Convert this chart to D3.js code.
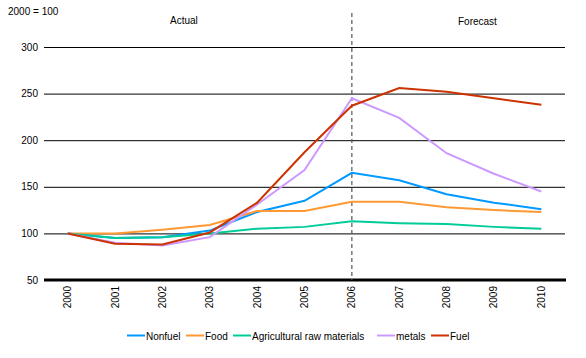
<!DOCTYPE html>
<html><head><meta charset="utf-8">
<script src="https://cdn.jsdelivr.net/npm/d3@7"></script>
<style>body{margin:0;background:#fff}svg{display:block}text{font-family:"Liberation Sans",Arial,sans-serif;fill:#000}</style>
</head><body>
<svg id="c" width="586" height="358"></svg>
<script>
const years = ["2000","2001","2002","2003","2004","2005","2006","2007","2008","2009","2010"];
const yTicks = [50,100,150,200,250,300];
const nonfuel = [100,95,96,103,123,135,165,157,142,133,126];
const food = [100,100,104,109,124,124,134,134,128,125,123];
const agri = [100,95,96,100,105,107,113,111,110,107,105];
const metals = [100,90,87,96,131,168,245,224,186,164,145];
const fuel = [100,89,88,101,133,187,237,256,252,245,238];
const seriesNames = ["Nonfuel","Food","Agricultural raw materials","metals","Fuel"];
const seriesColors = ["#0099ff","#ff9933","#00cc99","#cc99ff","#cc3300"];
const seriesData = [nonfuel, food, agri, metals, fuel];
const forecastStart = "2006";

const svg = d3.select("#c");
const L = 44, R = 565, T = 47, B = 280;
const x = d3.scalePoint().domain(years).range([L, R]).padding(0.5);
const y = d3.scaleLinear().domain([50,300]).range([B, T]);

// gridlines
svg.append("g").selectAll("line").data(yTicks.filter(d=>d>50)).join("line")
  .attr("x1", L).attr("x2", R).attr("y1", d=>y(d)+0.5).attr("y2", d=>y(d)+0.5)
  .attr("stroke","#000").attr("stroke-width",1);
// y labels
svg.append("g").selectAll("text").data(yTicks).join("text")
  .attr("x", 38).attr("y", d=>y(d)).attr("dy","0.35em").attr("text-anchor","end")
  .attr("font-size",10).text(d=>d);
// x axis line
svg.append("line").attr("x1",L).attr("x2",R+1).attr("y1",B).attr("y2",B)
  .attr("stroke","#000").attr("stroke-width",3);
// x labels
svg.append("g").selectAll("text").data(years).join("text")
  .attr("transform", d=>`translate(${x(d)},286) rotate(-90)`)
  .attr("text-anchor","end").attr("dy","0.35em").attr("font-size",10).text(d=>d);

// dashed line
svg.append("line").attr("x1",x(forecastStart)).attr("x2",x(forecastStart))
  .attr("y1",13).attr("y2",B).attr("stroke","#555").attr("stroke-width",1.2)
  .attr("stroke-dasharray","4,3");

// lines
const line = d3.line().x((d,i)=>x(years[i])).y(d=>y(d));
seriesData.forEach((s,i)=>{
  svg.append("path").attr("d", line(s)).attr("fill","none")
    .attr("stroke", seriesColors[i]).attr("stroke-width",2);
});

// labels
svg.append("text").attr("x",8).attr("y",15).attr("font-size",10).text("2000 = 100");
svg.append("text").attr("x",170).attr("y",24).attr("font-size",10).text("Actual");
svg.append("text").attr("x",458).attr("y",25).attr("font-size",10).text("Forecast");

// legend
const legX = [127,186,233,377,431];
const lg = svg.append("g");
seriesNames.forEach((n,i)=>{
  lg.append("line").attr("x1",legX[i]).attr("x2",legX[i]+18).attr("y1",335.5).attr("y2",335.5)
    .attr("stroke",seriesColors[i]).attr("stroke-width",2);
  lg.append("text").attr("x",legX[i]+19).attr("y",337).attr("dy","0.3em").attr("font-size",10).text(n);
});
</script>
</body></html>
